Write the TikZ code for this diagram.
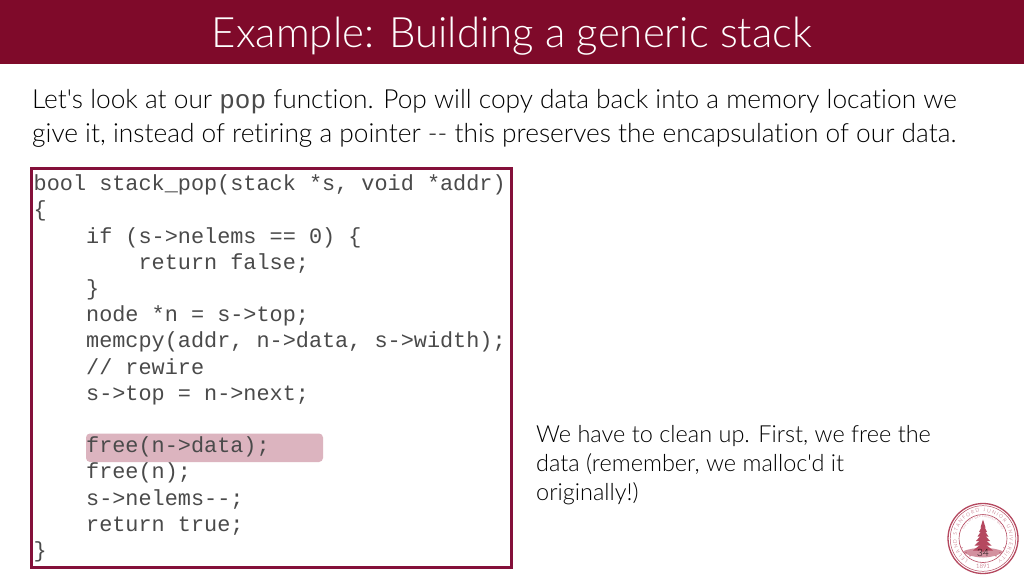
\documentclass[tikz,border=0pt]{standalone}
\usepackage{fontspec}
\setmainfont{Lato Light}[Ligatures={TeXOff,NoCommon},BoldFont={Lato}]
\setmonofont{Liberation Mono}
\usetikzlibrary{decorations.text}
\definecolor{cardinal}{HTML}{7F0A2A}
\definecolor{boxred}{HTML}{84103A}
\definecolor{hl}{HTML}{DCB4BF}
\definecolor{ink}{HTML}{000000}
\definecolor{codeink}{HTML}{4A4A4A}
\definecolor{seal}{HTML}{B5485F}
\tikzset{
  x=1pt,y=-1pt,
  title/.style={anchor=base,text=white,font=\fontsize{41.9}{41.9}\selectfont,inner sep=0},
  body/.style={anchor=base west,text=ink,font=\fontsize{26.3}{26.3}\selectfont,inner sep=0},
  code/.style={anchor=base west,text=codeink,font=\ttfamily\fontsize{21.85}{21.85}\selectfont,inner sep=0},
  note/.style={anchor=base west,text=ink,font=\fontsize{23.5}{23.5}\selectfont,inner sep=0},
  sealtext/.style={postaction={decorate},decoration={text along path,text align={fit to path},text={#1}}},
}
\begin{document}
\begin{tikzpicture}
\useasboundingbox (0,0) rectangle (1024,576);
\fill[white] (0,0) rectangle (1024,576);
\fill[cardinal] (0,0) rectangle (1024,64);
\node[title] (t) at (512,47) {Example: Building a generic stack};
\node[body] (l1) at (32,108) {Let's look at our {\ttfamily\color{codeink}\fontsize{26}{26}\selectfont pop} function. Pop will copy data back into a memory location we};
\node[body] (l2) at (32,142) {give it, instead of retiring a pointer -- this preserves the encapsulation of our data.};
\draw[boxred,line width=3pt,fill=white] (31.5,168.5) rectangle (511,567);
\fill[hl,rounded corners=4pt] (86,433.5) rectangle (323,462);
\foreach \n/\y/\s in {
 c1/190.6/{bool stack\_pop(stack *s, void *addr)},
 c2/216.8/{\{},
 c3/243/{\ \ \ \ if (s->nelems == 0) \{},
 c4/269.2/{\ \ \ \ \ \ \ \ return false;},
 c5/295.4/{\ \ \ \ \}},
 c6/321.6/{\ \ \ \ node *n = s->top;},
 c7/347.8/{\ \ \ \ memcpy(addr, n->data, s->width);},
 c8/374/{\ \ \ \ // rewire},
 c9/400.2/{\ \ \ \ s->top = n->next;},
 c10/452.6/{\ \ \ \ free(n->data);},
 c11/478.8/{\ \ \ \ free(n);},
 c12/505/{\ \ \ \ s->nelems--;},
 c13/531.2/{\ \ \ \ return true;},
 c14/557.4/{\}}}
 {\node[code] (\n) at (33.5,\y) {\s};}
\node[note] (n1) at (536,442) {We have to clean up. First, we free the};
\node[note] (n2) at (536,471) {data (remember, we malloc'd it};
\node[note] (n3) at (536,500) {originally!)};
% seal
\begin{scope}[shift={(983,538.5)},y=1pt]
\draw[seal,line width=1.3pt] (0,0) circle (35);
\draw[seal,line width=0.5pt] (0,0) circle (32.8);
\draw[seal,line width=0.6pt] (0,0) circle (24);
\path[sealtext={|\fontsize{5}{5}\selectfont\color{seal}|LELAND STANFORD JUNIOR UNIVERSITY}]
  (236:26.5) arc[start angle=236,end angle=-56,radius=26.5];
\path[sealtext={|\fontsize{2.6}{2.6}\selectfont\color{seal}|DIE LUFT DER FREIHEIT WEHT}]
  (155:21) arc[start angle=155,end angle=25,radius=21];
\fill[seal!60] (-21,-13) .. controls (-8,-8) and (8,-8) .. (21,-13) .. controls (10,-21) and (-10,-21) .. (-21,-13) -- cycle;
\fill[seal!90!black] (-1.2,-13) -- (-0.4,17) -- (0.4,17) -- (1.2,-13) -- cycle;
\foreach \y/\w in {15/2.5,10.5/4,6/5.5,1.5/7,-3/8.5,-8/10}
  \fill[seal] (-\w,\y-4) -- (0,\y+4) -- (\w,\y-4) -- cycle;
\foreach \x in {-21,-17,-13,13,17,21}
  \fill[seal] (\x,{-sqrt(24*24+28-\x*\x)+3.5}) circle (0.7);
\node[text=seal,font=\fontsize{6}{6}\selectfont,inner sep=0] (yr) at (0,-27.5) {1891};
\node[text=black,font=\fontsize{10}{10}\selectfont,inner sep=0] (pg) at (0,-14.5) {34};
\end{scope}
\end{tikzpicture}
\end{document}
